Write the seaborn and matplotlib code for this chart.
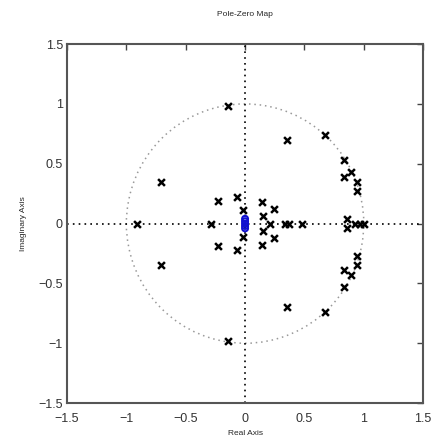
import numpy as np
import pandas as pd
import seaborn as sns
import matplotlib
matplotlib.use("Agg")
import matplotlib.pyplot as plt

# poles, conjugate pairs listed by upper half
pole_re_pairs = [-0.14, -0.71, -0.23, -0.07, -0.015, 0.14, 0.24, 0.155,
                 0.35, 0.67, 0.83, 0.83, 0.89, 0.94, 0.946, 0.857]
pole_im_pairs = [0.98, 0.35, 0.19, 0.22, 0.11, 0.18, 0.12, 0.06,
                 0.70, 0.74, 0.53, 0.39, 0.43, 0.35, 0.27, 0.04]
pole_re_real = [-0.91, -0.29, 0.21, 0.34, 0.37, 0.48, 0.93, 0.965, 1.0]

# zeros clustered at the origin
zero_re = [0.0, 0.0, 0.0, 0.0, 0.0]
zero_im = [0.0, 0.02, -0.02, 0.04, -0.04]

ticks = [-1.5, -1, -0.5, 0, 0.5, 1, 1.5]
tick_labels = ["\u22121.5", "\u22121", "\u22120.5", "0", "0.5", "1", "1.5"]

poles = pd.DataFrame({
    "re": pole_re_pairs + pole_re_pairs + pole_re_real,
    "im": pole_im_pairs + [-v for v in pole_im_pairs] + [0.0] * len(pole_re_real),
})
zeros = pd.DataFrame({"re": zero_re, "im": zero_im})

sns.set_style("white")
plt.rcParams["font.family"] = ["Liberation Sans", "DejaVu Sans"]

fig = plt.figure(figsize=(4.38, 4.41), dpi=100)
ax = fig.add_axes([0.153, 0.086, 0.813, 0.814])

# unit circle and axis lines
ax.add_patch(plt.Circle((0, 0), 1, fill=False, ls=(0, (1, 2.5)), lw=1.1,
                        color="#999999"))
ax.axhline(0, color="black", ls=(0, (1, 2.5)), lw=1.2, zorder=1)
ax.axvline(0, color="black", ls=(0, (1, 2.5)), lw=1.2, zorder=1)

sns.scatterplot(data=poles, x="re", y="im", marker="x", color="black",
                s=24, linewidth=1.8, ax=ax, zorder=3)
sns.scatterplot(data=zeros, x="re", y="im", marker="o", facecolor="none",
                edgecolor="#1010d0", s=18, linewidth=1.5, ax=ax, zorder=4)

ax.set_xlim(-1.5, 1.5)
ax.set_ylim(-1.5, 1.5)
ax.set_xticks(ticks)
ax.set_yticks(ticks)
ax.set_xticklabels(tick_labels)
ax.set_yticklabels(tick_labels)
ax.tick_params(direction="in", length=4, width=1, color="#444444",
               top=True, right=True, labelsize=9, labelcolor="#333333")
ax.tick_params(axis="x", pad=7)
ax.tick_params(axis="y", pad=3)
for sp in ax.spines.values():
    sp.set_color("#555555")
    sp.set_linewidth(1.5)

ax.set_xlabel("Real Axis", fontsize=6, labelpad=4)
ax.set_ylabel("Imaginary Axis", fontsize=6, labelpad=8)
ax.set_title("Pole-Zero Map", fontsize=6, pad=20)

fig.savefig("out.png", dpi=100)
